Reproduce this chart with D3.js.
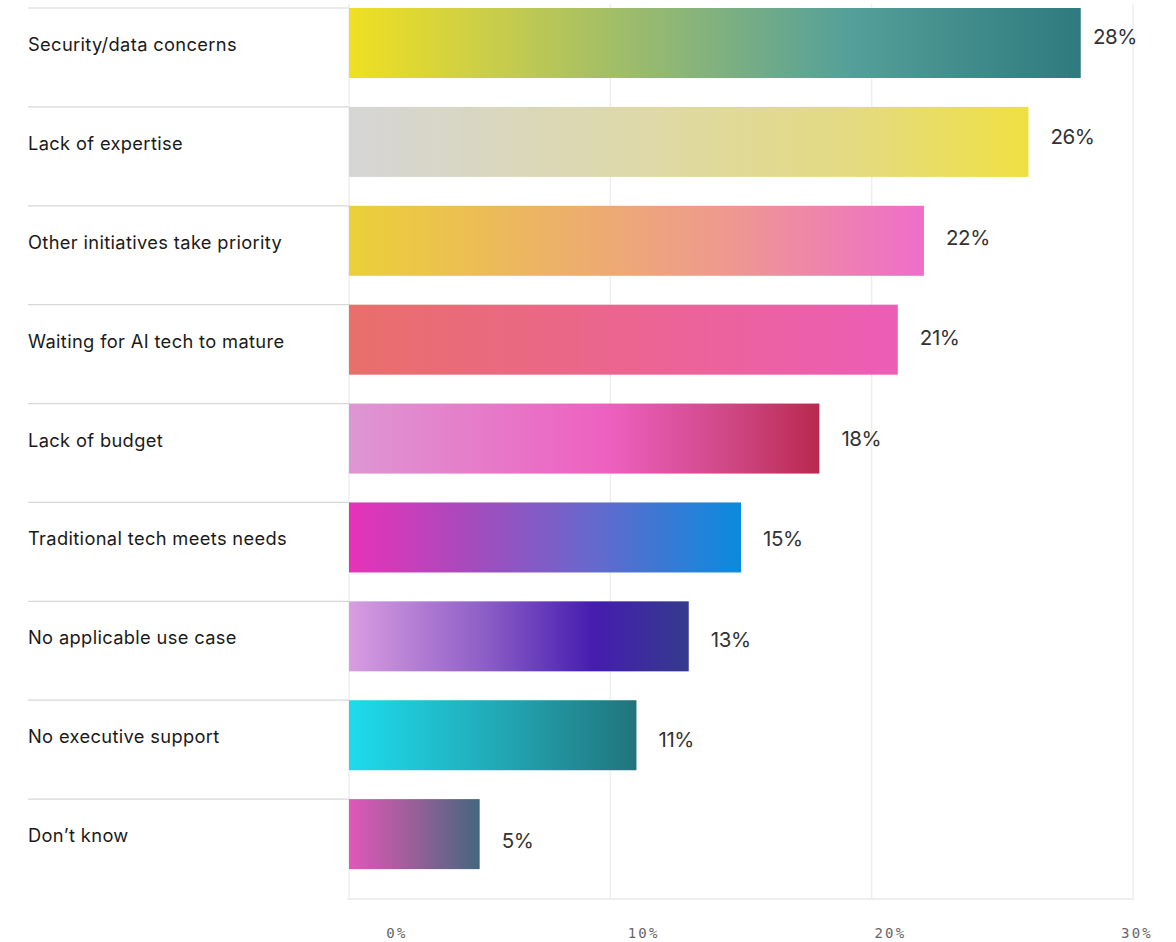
<!DOCTYPE html>
<html>
<head>
<meta charset="utf-8">
<script src="https://cdn.jsdelivr.net/npm/d3@7"></script>
<style>
  html, body { margin: 0; padding: 0; background: #fff; }
  svg { display: block; }
</style>
</head>
<body>
<svg id="chart" width="1176" height="942"></svg>
<script>
// Reasons for not adopting AI, share of respondents (%)
const categories = [
  "Security/data concerns",
  "Lack of expertise",
  "Other initiatives take priority",
  "Waiting for AI tech to mature",
  "Lack of budget",
  "Traditional tech meets needs",
  "No applicable use case",
  "No executive support",
  "Don\u2019t know"
];
const values = [28, 26, 22, 21, 18, 15, 13, 11, 5];
const tickValues = [0, 10, 20, 30];

// Gradient stops for each bar, left to right
const gradients = [
  [[0, "#f0e022"], [0.22, "#c4cb4e"], [0.45, "#8db677"], [0.68, "#55a099"], [1, "#2e7a7e"]],
  [[0, "#d5d5d5"], [0.45, "#ded9a6"], [0.75, "#e4da80"], [1, "#efe042"]],
  [[0, "#ebd037"], [0.35, "#ecb266"], [0.65, "#ee9a8e"], [1, "#ee6ecb"]],
  [[0, "#e86f6a"], [0.5, "#eb6590"], [1, "#ec5db6"]],
  [[0, "#dd97d3"], [0.55, "#ee60c0"], [0.8, "#d04887"], [1, "#b9294f"]],
  [[0, "#e832b8"], [0.3, "#a84abc"], [0.6, "#6b66cb"], [1, "#0a8bdd"]],
  [[0, "#d99de1"], [0.4, "#8c5ec6"], [0.72, "#451cb0"], [1, "#343b8c"]],
  [[0, "#1ddcec"], [0.55, "#22a5b2"], [1, "#21747b"]],
  [[0, "#e157b9"], [0.5, "#985f98"], [1, "#43677f"]]
];

const svg = d3.select("#chart");
const defs = svg.append("defs");

const x = d3.scaleLinear().domain([0, 30]).range([349, 1133]);
const tickX = d3.scaleLinear().domain([0, 30]).range([397, 1137]);
const y = d3.scaleBand().domain(categories).range([8, 898])
  .paddingInner(0.292).paddingOuter(0.146).align(0);
const labelY = d3.scalePoint().domain(categories).range([36, 840]);

// vertical gridlines
svg.append("g").selectAll("line").data(tickValues).join("line")
  .attr("x1", d => x(d)).attr("x2", d => x(d))
  .attr("y1", 4).attr("y2", 898)
  .attr("stroke", "#eeeeee").attr("stroke-width", 1.5);

// baseline
svg.append("line")
  .attr("x1", x(0) - 2).attr("x2", x(30) + 1)
  .attr("y1", 899).attr("y2", 899)
  .attr("stroke", "#eeeeee").attr("stroke-width", 2);

// row separators beside category labels
svg.append("g").selectAll("line").data(categories).join("line")
  .attr("x1", 28).attr("x2", 349)
  .attr("y1", d => y(d)).attr("y2", d => y(d))
  .attr("stroke", "#d8d8d8").attr("stroke-width", 1.2);

// gradients
categories.forEach((c, i) => {
  const g = defs.append("linearGradient")
    .attr("id", "grad" + i)
    .attr("x1", "0%").attr("x2", "100%").attr("y1", "0%").attr("y2", "0%");
  gradients[i].forEach(([o, col]) => {
    g.append("stop").attr("offset", o).attr("stop-color", col);
  });
});

// bars
svg.append("g").selectAll("rect").data(categories).join("rect")
  .attr("x", x(0))
  .attr("y", d => y(d))
  .attr("width", (d, i) => x(values[i]) - x(0))
  .attr("height", y.bandwidth())
  .attr("fill", (d, i) => `url(#grad${i})`);

// category labels
svg.append("g").selectAll("text").data(categories).join("text")
  .attr("x", 28)
  .attr("y", d => y(d) + y.bandwidth() / 2 + 1)
  .attr("dominant-baseline", "central")
  .attr("font-family", "Inter, 'Noto Sans', sans-serif")
  .attr("font-size", 18.3)
  .attr("letter-spacing", 0.35)
  .attr("fill", "#1a1a1a")
  .text(d => d);

// value labels, kept inside the right edge
const rightEdge = 1137;
svg.append("g").selectAll("text").data(categories).join("text")
  .attr("y", d => labelY(d))
  .attr("dominant-baseline", "central")
  .attr("font-family", "Inter, 'Noto Sans', sans-serif")
  .attr("font-size", 20.5)
  .attr("fill", "#333333")
  .attr("letter-spacing", -0.4)
  .text((d, i) => values[i] + "%")
  .each(function (d, i) {
    const w = this.getComputedTextLength();
    this.setAttribute("x", Math.min(x(values[i]) + 22, rightEdge - w));
  });

// x tick labels
svg.append("g").selectAll("text").data(tickValues).join("text")
  .attr("x", d => tickX(d))
  .attr("y", 933)
  .attr("text-anchor", "middle")
  .attr("dominant-baseline", "central")
  .attr("font-family", "'DejaVu Sans Mono', monospace")
  .attr("font-size", 14)
  .attr("letter-spacing", 2.2)
  .attr("fill", "#666666")
  .text(d => d + "%");
</script>
</body>
</html>
